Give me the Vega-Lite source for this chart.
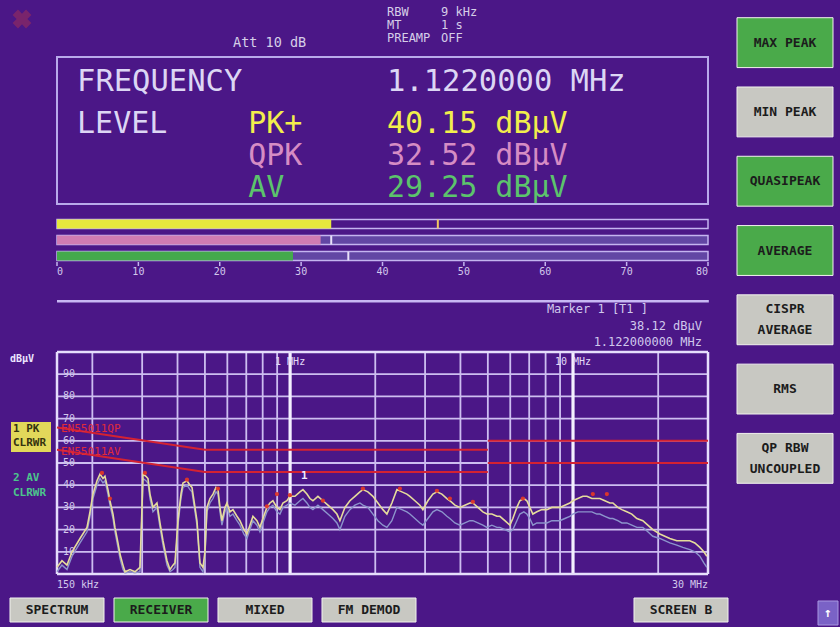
{
"$schema": "https://vega.github.io/schema/vega-lite/v6.json",
"width": 840, "height": 627,
"autosize": {"type": "none"},
"padding": 0,
"background": "#4b1787",
"config": {"view": {"stroke": null}, "legend": {"disable": true}, "text": {"font": "DejaVu Sans Mono"}},
"datasets": {
 "logo": [{"mark": "logo"}],
 "attenuation": [{"setting": "att", "label": "Att 10 dB"}],
 "header": [{"item": "RBW", "setting": "9 kHz"}, {"item": "MT", "setting": "1 s"}, {"item": "PREAMP", "setting": "OFF"}],
 "frequency": [{"quantity": "FREQUENCY", "reading": "1.1220000 MHz"}],
 "levels": [{"det": "PK+", "quantity": "LEVEL", "reading": "40.15 dBµV"}, {"det": "QPK", "quantity": "", "reading": "32.52 dBµV"}, {"det": "AV", "quantity": "", "reading": "29.25 dBµV"}],
 "meter": [{"det": "PK+", "bar": 33.7, "hold": 46.8}, {"det": "QPK", "bar": 32.4, "hold": 33.7}, {"det": "AV", "bar": 29.0, "hold": 35.8}],
 "meterScale": [{"v": 0}, {"v": 10}, {"v": 20}, {"v": 30}, {"v": 40}, {"v": 50}, {"v": 60}, {"v": 70}, {"v": 80}],
 "panels": [{"panel": "readout"}, {"panel": "separator"}, {"panel": "badge"}],
 "markerInfo": [{"line": "title", "text": "Marker 1 [T1 ]"}, {"line": "level", "text": "38.12 dBµV"}, {"line": "freq", "text": "1.122000000 MHz"}],
 "vgrid": [{"f": 0.2, "kind": "minor"}, {"f": 0.3, "kind": "minor"}, {"f": 0.4, "kind": "minor"}, {"f": 0.5, "kind": "minor"}, {"f": 0.6, "kind": "minor"}, {"f": 0.7, "kind": "minor"}, {"f": 0.8, "kind": "minor"}, {"f": 0.9, "kind": "minor"}, {"f": 1, "kind": "major"}, {"f": 2, "kind": "minor"}, {"f": 3, "kind": "minor"}, {"f": 4, "kind": "minor"}, {"f": 5, "kind": "minor"}, {"f": 6, "kind": "minor"}, {"f": 7, "kind": "minor"}, {"f": 8, "kind": "minor"}, {"f": 9, "kind": "minor"}, {"f": 10, "kind": "major"}, {"f": 20, "kind": "minor"}, {"f": 0.15, "kind": "frame"}, {"f": 30, "kind": "frame"}],
 "hgrid": [{"dB": 10, "label": "10"}, {"dB": 20, "label": "20"}, {"dB": 30, "label": "30"}, {"dB": 40, "label": "40"}, {"dB": 50, "label": "50"}, {"dB": 60, "label": "60"}, {"dB": 70, "label": "70"}, {"dB": 80, "label": "80"}, {"dB": 90, "label": "90"}],
 "hframe": [{"dB": 0}, {"dB": 100}],
 "freqLabels": [{"anchor": "start", "f": 0.15, "label": "150 kHz"}, {"anchor": "end", "f": 30, "label": "30 MHz"}, {"anchor": "decade", "f": 1, "label": "1 MHz"}, {"anchor": "decade", "f": 10, "label": "10 MHz"}],
 "limits": [{"seg": "QP-a", "f": 0.15, "dB": 66}, {"seg": "QP-a", "f": 0.5, "dB": 56}, {"seg": "QP-a", "f": 5, "dB": 56}, {"seg": "QP-b", "f": 5, "dB": 60}, {"seg": "QP-b", "f": 30, "dB": 60}, {"seg": "AV-a", "f": 0.15, "dB": 56}, {"seg": "AV-a", "f": 0.5, "dB": 46}, {"seg": "AV-a", "f": 5, "dB": 46}, {"seg": "AV-b", "f": 5, "dB": 50}, {"seg": "AV-b", "f": 30, "dB": 50}],
 "limitLabels": [{"label": "EN55011QP", "dB": 66}, {"label": "EN55011AV", "dB": 56}],
 "pk": [{"f":0.15,"dB":3},{"f":0.1562,"dB":6},{"f":0.1627,"dB":4},{"f":0.1695,"dB":10},{"f":0.1809,"dB":16},{"f":0.1915,"dB":21},{"f":0.1962,"dB":28},{"f":0.201,"dB":36},{"f":0.2077,"dB":42},{"f":0.2128,"dB":45},{"f":0.2181,"dB":43},{"f":0.2216,"dB":44},{"f":0.2271,"dB":38},{"f":0.2308,"dB":33},{"f":0.2366,"dB":27},{"f":0.2404,"dB":21},{"f":0.2464,"dB":14},{"f":0.2504,"dB":9},{"f":0.2566,"dB":4},{"f":0.2609,"dB":1},{"f":0.2717,"dB":2},{"f":0.283,"dB":1},{"f":0.2947,"dB":3},{"f":0.2996,"dB":30},{"f":0.302,"dB":45},{"f":0.3094,"dB":44},{"f":0.3145,"dB":43},{"f":0.3197,"dB":36},{"f":0.3276,"dB":30},{"f":0.3384,"dB":32},{"f":0.3468,"dB":23},{"f":0.3554,"dB":15},{"f":0.3671,"dB":6},{"f":0.3762,"dB":2},{"f":0.3855,"dB":4},{"f":0.3918,"dB":5},{"f":0.4015,"dB":24},{"f":0.4114,"dB":36},{"f":0.4182,"dB":41},{"f":0.432,"dB":42},{"f":0.4427,"dB":40},{"f":0.45,"dB":39},{"f":0.4611,"dB":30},{"f":0.4686,"dB":24},{"f":0.4802,"dB":5},{"f":0.4921,"dB":3},{"f":0.5002,"dB":10},{"f":0.5083,"dB":30},{"f":0.5209,"dB":34},{"f":0.5338,"dB":36},{"f":0.547,"dB":39},{"f":0.556,"dB":38},{"f":0.5651,"dB":30},{"f":0.5742,"dB":24},{"f":0.5884,"dB":30},{"f":0.5981,"dB":32},{"f":0.6129,"dB":28},{"f":0.628,"dB":29},{"f":0.6488,"dB":26},{"f":0.6648,"dB":24},{"f":0.6868,"dB":20},{"f":0.7038,"dB":18},{"f":0.7212,"dB":22},{"f":0.739,"dB":26},{"f":0.7634,"dB":24},{"f":0.7823,"dB":21},{"f":0.8016,"dB":25},{"f":0.8281,"dB":30},{"f":0.8486,"dB":32},{"f":0.8695,"dB":33},{"f":0.8983,"dB":30},{"f":0.9206,"dB":29},{"f":0.9433,"dB":32},{"f":0.9745,"dB":33},{"f":0.9986,"dB":35},{"f":1.0401,"dB":35},{"f":1.0834,"dB":37},{"f":1.1102,"dB":38},{"f":1.1469,"dB":36},{"f":1.1752,"dB":34},{"f":1.2042,"dB":33},{"f":1.2543,"dB":35},{"f":1.3064,"dB":33},{"f":1.3608,"dB":31},{"f":1.4174,"dB":29},{"f":1.4639,"dB":27},{"f":1.5,"dB":24},{"f":1.5624,"dB":30},{"f":1.627,"dB":33},{"f":1.6947,"dB":35},{"f":1.7652,"dB":37},{"f":1.8087,"dB":38},{"f":1.8838,"dB":37},{"f":1.9623,"dB":35},{"f":2.0439,"dB":32},{"f":2.1281,"dB":29},{"f":2.1987,"dB":27},{"f":2.2897,"dB":32},{"f":2.385,"dB":38},{"f":2.4841,"dB":37},{"f":2.587,"dB":36},{"f":2.651,"dB":35},{"f":2.7612,"dB":33},{"f":2.8761,"dB":31},{"f":2.9471,"dB":29},{"f":3.0696,"dB":33},{"f":3.1966,"dB":36},{"f":3.3027,"dB":37},{"f":3.4397,"dB":36},{"f":3.5826,"dB":34},{"f":3.6711,"dB":33},{"f":3.8235,"dB":31},{"f":3.9819,"dB":30},{"f":4.1473,"dB":31},{"f":4.3196,"dB":32},{"f":4.4268,"dB":32},{"f":4.6104,"dB":30},{"f":4.8019,"dB":28},{"f":4.9604,"dB":27},{"f":5.1664,"dB":27},{"f":5.3811,"dB":26},{"f":5.5144,"dB":26},{"f":5.7425,"dB":24},{"f":5.9811,"dB":22},{"f":6.1293,"dB":25},{"f":6.3315,"dB":30},{"f":6.4877,"dB":33},{"f":6.7032,"dB":34},{"f":6.8687,"dB":33},{"f":7.0382,"dB":30},{"f":7.2117,"dB":27},{"f":7.4499,"dB":28},{"f":7.7592,"dB":29},{"f":8.0813,"dB":29},{"f":8.4173,"dB":30},{"f":8.6964,"dB":30},{"f":8.9841,"dB":30},{"f":9.3572,"dB":31},{"f":9.7445,"dB":32},{"f":9.9857,"dB":33},{"f":10.401,"dB":34},{"f":10.834,"dB":35},{"f":11.195,"dB":35},{"f":11.658,"dB":34},{"f":12.139,"dB":34},{"f":12.44,"dB":34},{"f":12.957,"dB":33},{"f":13.496,"dB":32},{"f":13.83,"dB":32},{"f":14.401,"dB":30},{"f":14.88,"dB":29},{"f":15.495,"dB":28},{"f":16.14,"dB":27},{"f":16.811,"dB":25},{"f":17.651,"dB":24},{"f":18.384,"dB":22},{"f":19.146,"dB":20},{"f":20.271,"dB":18},{"f":21.111,"dB":17},{"f":21.989,"dB":16},{"f":23.276,"dB":15},{"f":24.44,"dB":15},{"f":25.875,"dB":15},{"f":26.952,"dB":14},{"f":28.076,"dB":12},{"f":29.001,"dB":10},{"f":29.718,"dB":8}],
 "av": [{"f":0.15,"dB":1},{"f":0.1562,"dB":4},{"f":0.1627,"dB":2},{"f":0.1695,"dB":8},{"f":0.1809,"dB":14},{"f":0.1915,"dB":19},{"f":0.1962,"dB":26},{"f":0.201,"dB":34},{"f":0.2077,"dB":40},{"f":0.2128,"dB":43},{"f":0.2181,"dB":41},{"f":0.2216,"dB":42},{"f":0.2271,"dB":36},{"f":0.2308,"dB":31},{"f":0.2366,"dB":25},{"f":0.2404,"dB":19},{"f":0.2464,"dB":12},{"f":0.2504,"dB":7},{"f":0.2566,"dB":2},{"f":0.2609,"dB":0.5},{"f":0.2717,"dB":1},{"f":0.283,"dB":0.5},{"f":0.2947,"dB":1},{"f":0.2996,"dB":28},{"f":0.302,"dB":43},{"f":0.3094,"dB":42},{"f":0.3145,"dB":41},{"f":0.3197,"dB":34},{"f":0.3276,"dB":28},{"f":0.3384,"dB":30},{"f":0.3468,"dB":21},{"f":0.3554,"dB":13},{"f":0.3671,"dB":4},{"f":0.3762,"dB":1},{"f":0.3855,"dB":2},{"f":0.3918,"dB":3},{"f":0.4015,"dB":22},{"f":0.4114,"dB":34},{"f":0.4182,"dB":39},{"f":0.432,"dB":40},{"f":0.4427,"dB":38},{"f":0.45,"dB":37},{"f":0.4611,"dB":28},{"f":0.4686,"dB":22},{"f":0.4802,"dB":3},{"f":0.4921,"dB":1},{"f":0.5002,"dB":8},{"f":0.5083,"dB":28},{"f":0.5209,"dB":32},{"f":0.5338,"dB":34},{"f":0.547,"dB":37},{"f":0.556,"dB":36},{"f":0.5651,"dB":28},{"f":0.5742,"dB":22},{"f":0.5884,"dB":28},{"f":0.5981,"dB":30},{"f":0.6129,"dB":26},{"f":0.628,"dB":27},{"f":0.6488,"dB":24},{"f":0.6648,"dB":22},{"f":0.6868,"dB":18},{"f":0.7038,"dB":16},{"f":0.7212,"dB":20},{"f":0.739,"dB":24},{"f":0.7634,"dB":22},{"f":0.7823,"dB":19},{"f":0.8016,"dB":23},{"f":0.8281,"dB":28},{"f":0.8486,"dB":30},{"f":0.8695,"dB":31},{"f":0.8983,"dB":28},{"f":0.9206,"dB":27},{"f":0.9433,"dB":30},{"f":0.9745,"dB":31},{"f":0.9986,"dB":32},{"f":1.0401,"dB":31},{"f":1.0834,"dB":33},{"f":1.1102,"dB":34},{"f":1.1469,"dB":32},{"f":1.1752,"dB":30},{"f":1.2042,"dB":29},{"f":1.2543,"dB":31},{"f":1.3064,"dB":29},{"f":1.3608,"dB":27},{"f":1.4174,"dB":25},{"f":1.4639,"dB":23},{"f":1.5,"dB":20},{"f":1.5624,"dB":26},{"f":1.627,"dB":29},{"f":1.6947,"dB":31},{"f":1.7652,"dB":32},{"f":1.8087,"dB":31},{"f":1.8838,"dB":30},{"f":1.9623,"dB":27},{"f":2.0439,"dB":24},{"f":2.1281,"dB":22},{"f":2.1987,"dB":21},{"f":2.2897,"dB":24},{"f":2.385,"dB":30},{"f":2.4841,"dB":29},{"f":2.587,"dB":28},{"f":2.651,"dB":27},{"f":2.7612,"dB":25},{"f":2.8761,"dB":23},{"f":2.9471,"dB":22},{"f":3.0696,"dB":25},{"f":3.1966,"dB":28},{"f":3.3027,"dB":29},{"f":3.4397,"dB":28},{"f":3.5826,"dB":26},{"f":3.6711,"dB":25},{"f":3.8235,"dB":23},{"f":3.9819,"dB":22},{"f":4.1473,"dB":23},{"f":4.3196,"dB":24},{"f":4.4268,"dB":24},{"f":4.6104,"dB":23},{"f":4.8019,"dB":22},{"f":4.9604,"dB":21},{"f":5.1664,"dB":22},{"f":5.3811,"dB":21},{"f":5.5144,"dB":21},{"f":5.7425,"dB":20},{"f":5.9811,"dB":19},{"f":6.1293,"dB":20},{"f":6.3315,"dB":24},{"f":6.4877,"dB":27},{"f":6.7032,"dB":28},{"f":6.8687,"dB":27},{"f":7.0382,"dB":25},{"f":7.2117,"dB":22},{"f":7.4499,"dB":23},{"f":7.7592,"dB":23},{"f":8.0813,"dB":23},{"f":8.4173,"dB":24},{"f":8.6964,"dB":24},{"f":8.9841,"dB":24},{"f":9.3572,"dB":25},{"f":9.7445,"dB":26},{"f":9.9857,"dB":27},{"f":10.401,"dB":28},{"f":10.834,"dB":28},{"f":11.195,"dB":28},{"f":11.658,"dB":28},{"f":12.139,"dB":27},{"f":12.44,"dB":27},{"f":12.957,"dB":26},{"f":13.496,"dB":25},{"f":13.83,"dB":25},{"f":14.401,"dB":24},{"f":14.88,"dB":23},{"f":15.495,"dB":23},{"f":16.14,"dB":22},{"f":16.811,"dB":21},{"f":17.651,"dB":21},{"f":18.384,"dB":19},{"f":19.146,"dB":17},{"f":20.271,"dB":16},{"f":21.111,"dB":15},{"f":21.989,"dB":14},{"f":23.276,"dB":13},{"f":24.44,"dB":12},{"f":25.875,"dB":11},{"f":26.952,"dB":10},{"f":28.076,"dB":8},{"f":29.001,"dB":5},{"f":29.718,"dB":3}],
 "qp": [{"f":0.2163,"dB":45.5},{"f":0.2308,"dB":34},{"f":0.3069,"dB":45.5},{"f":0.432,"dB":42.5},{"f":0.556,"dB":38.5},{"f":0.8281,"dB":30.5},{"f":0.8983,"dB":36},{"f":0.9986,"dB":35.5},{"f":1.3064,"dB":33},{"f":1.8087,"dB":38.5},{"f":2.444,"dB":38.5},{"f":3.3027,"dB":37.5},{"f":3.6711,"dB":34},{"f":4.4268,"dB":32.5},{"f":6.65,"dB":34},{"f":11.75,"dB":36},{"f":13.17,"dB":36}],
 "marker": [{"marker": "1", "f": 1.122, "dB": 38.12}],
 "gutter": [{"item": "unit", "label": "dBµV"}, {"item": "pk1", "label": "1 PK"}, {"item": "pk2", "label": "CLRWR"}, {"item": "av1", "label": "2 AV"}, {"item": "av2", "label": "CLRWR"}],
 "softkeys": [{"key": "MAX PEAK", "state": "on", "lines": 1, "label": "MAX PEAK"}, {"key": "MIN PEAK", "state": "off", "lines": 1, "label": "MIN PEAK"}, {"key": "QUASIPEAK", "state": "on", "lines": 1, "label": "QUASIPEAK"}, {"key": "AVERAGE", "state": "on", "lines": 1, "label": "AVERAGE"}, {"key": "CISPR AVERAGE", "state": "off", "lines": 2, "label": "CISPR\nAVERAGE"}, {"key": "RMS", "state": "off", "lines": 1, "label": "RMS"}, {"key": "QP RBW UNCOUPLED", "state": "off", "lines": 2, "label": "QP RBW\nUNCOUPLED"}],
 "hotkeys": [{"key": "SPECTRUM", "state": "off"}, {"key": "RECEIVER", "state": "on"}, {"key": "MIXED", "state": "off"}, {"key": "FM DEMOD", "state": "off"}, {"key": "SCREEN B", "state": "off"}],
 "upkey": [{"key": "up", "label": "↑"}]
},
"layer": [
 {"data": {"name": "logo"},
  "mark": {"type": "point", "shape": "cross", "angle": 45, "size": 360, "filled": true, "color": "#a03056", "opacity": 0.55},
  "encoding": {
   "x": {"field": "mark", "type": "nominal", "scale": {"type": "band", "domain": ["logo"], "range": [12, 32], "paddingInner": 0, "paddingOuter": 0}, "axis": null},
   "y": {"field": "mark", "type": "nominal", "scale": {"type": "band", "domain": ["logo"], "range": [9, 29], "paddingInner": 0, "paddingOuter": 0}, "axis": null}}},
 {"data": {"name": "attenuation"},
  "mark": {"type": "text", "align": "left", "baseline": "middle", "fontSize": 13.5, "color": "#d6cee8"},
  "encoding": {
   "x": {"datum": 21.63, "type": "quantitative", "scale": {"type": "linear", "domain": [0, 80], "range": [57, 708], "nice": false, "zero": false}, "axis": null},
   "y": {"field": "setting", "type": "nominal", "scale": {"type": "band", "domain": ["att"], "range": [36.5, 48.5], "paddingInner": 0, "paddingOuter": 0}, "axis": null},
   "text": {"field": "label"}}},
 {"data": {"name": "header"},
  "mark": {"type": "text", "align": "left", "baseline": "middle", "fontSize": 12, "color": "#d6cee8"},
  "encoding": {
   "x": {"datum": 40.55, "type": "quantitative", "scale": {"type": "linear", "domain": [0, 80], "range": [57, 708], "nice": false, "zero": false}, "axis": null},
   "y": {"field": "item", "type": "nominal", "scale": {"type": "band", "domain": ["RBW", "MT", "PREAMP"], "range": [5, 44], "paddingInner": 0, "paddingOuter": 0}, "axis": null},
   "text": {"field": "item"}}},
 {"data": {"name": "header"},
  "mark": {"type": "text", "align": "left", "baseline": "middle", "fontSize": 12, "color": "#d6cee8"},
  "encoding": {
   "x": {"datum": 47.19, "type": "quantitative", "scale": {"type": "linear", "domain": [0, 80], "range": [57, 708], "nice": false, "zero": false}, "axis": null},
   "y": {"field": "item", "type": "nominal", "scale": {"type": "band", "domain": ["RBW", "MT", "PREAMP"], "range": [5, 44], "paddingInner": 0, "paddingOuter": 0}, "axis": null},
   "text": {"field": "setting"}}},
 {"data": {"name": "panels"}, "transform": [{"filter": "datum.panel === 'readout'"}],
  "mark": {"type": "rect", "fillOpacity": 0, "stroke": "#b8aaea", "strokeWidth": 2},
  "encoding": {
   "x": {"datum": 0, "type": "quantitative", "scale": {"type": "linear", "domain": [0, 80], "range": [57, 708], "nice": false, "zero": false}, "axis": null},
   "x2": {"datum": 80},
   "y": {"field": "panel", "type": "nominal", "scale": {"type": "band", "domain": ["readout"], "range": [57, 204], "paddingInner": 0, "paddingOuter": 0}, "axis": null}}},
 {"data": {"name": "frequency"},
  "mark": {"type": "text", "align": "left", "baseline": "middle", "fontSize": 30.5, "color": "#dcd6f4"},
  "encoding": {
   "x": {"datum": 2.46, "type": "quantitative", "scale": {"type": "linear", "domain": [0, 80], "range": [57, 708], "nice": false, "zero": false}, "axis": null},
   "y": {"field": "quantity", "type": "nominal", "scale": {"type": "band", "domain": ["FREQUENCY"], "range": [70, 94], "paddingInner": 0, "paddingOuter": 0}, "axis": null},
   "text": {"field": "quantity"}}},
 {"data": {"name": "frequency"},
  "mark": {"type": "text", "align": "left", "baseline": "middle", "fontSize": 30.5, "color": "#dcd6f4"},
  "encoding": {
   "x": {"datum": 40.55, "type": "quantitative", "scale": {"type": "linear", "domain": [0, 80], "range": [57, 708], "nice": false, "zero": false}, "axis": null},
   "y": {"field": "quantity", "type": "nominal", "scale": {"type": "band", "domain": ["FREQUENCY"], "range": [70, 94], "paddingInner": 0, "paddingOuter": 0}, "axis": null},
   "text": {"field": "reading"}}},
 {"data": {"name": "levels"},
  "mark": {"type": "text", "align": "left", "baseline": "middle", "fontSize": 30, "color": "#dcd6f4"},
  "encoding": {
   "x": {"datum": 2.46, "type": "quantitative", "scale": {"type": "linear", "domain": [0, 80], "range": [57, 708], "nice": false, "zero": false}, "axis": null},
   "y": {"field": "det", "type": "nominal", "scale": {"type": "band", "domain": ["PK+", "QPK", "AV"], "range": [108, 204], "paddingInner": 0, "paddingOuter": 0}, "axis": null},
   "text": {"field": "quantity"}}},
 {"data": {"name": "levels"},
  "mark": {"type": "text", "align": "left", "baseline": "middle", "fontSize": 30},
  "encoding": {
   "x": {"datum": 23.5, "type": "quantitative", "scale": {"type": "linear", "domain": [0, 80], "range": [57, 708], "nice": false, "zero": false}, "axis": null},
   "y": {"field": "det", "type": "nominal", "scale": {"type": "band", "domain": ["PK+", "QPK", "AV"], "range": [108, 204], "paddingInner": 0, "paddingOuter": 0}, "axis": null},
   "text": {"field": "det"},
   "color": {"field": "det", "type": "nominal", "scale": {"domain": ["PK+", "QPK", "AV"], "range": ["#f2ee4c", "#d68cc4", "#5cc46c"]}, "legend": null}}},
 {"data": {"name": "levels"},
  "mark": {"type": "text", "align": "left", "baseline": "middle", "fontSize": 30},
  "encoding": {
   "x": {"datum": 40.55, "type": "quantitative", "scale": {"type": "linear", "domain": [0, 80], "range": [57, 708], "nice": false, "zero": false}, "axis": null},
   "y": {"field": "det", "type": "nominal", "scale": {"type": "band", "domain": ["PK+", "QPK", "AV"], "range": [108, 204], "paddingInner": 0, "paddingOuter": 0}, "axis": null},
   "text": {"field": "reading"},
   "color": {"field": "det", "type": "nominal", "scale": {"domain": ["PK+", "QPK", "AV"], "range": ["#f2ee4c", "#d68cc4", "#5cc46c"]}, "legend": null}}},
 {"data": {"name": "meter"},
  "mark": {"type": "rect", "stroke": "#c4b4f0", "strokeWidth": 1.5},
  "encoding": {
   "x": {"datum": 0, "type": "quantitative", "scale": {"type": "linear", "domain": [0, 80], "range": [57, 708], "nice": false, "zero": false}, "axis": null},
   "x2": {"datum": 80},
   "y": {"field": "det", "type": "nominal", "scale": {"type": "band", "domain": ["PK+", "QPK", "AV"], "range": [216, 264], "paddingInner": 0.45, "paddingOuter": 0.225}, "axis": null},
   "color": {"field": "det", "type": "nominal", "scale": {"domain": ["PK+", "QPK", "AV"], "range": ["#4b1787", "#6246a4", "#6246a4"]}, "legend": null}}},
 {"data": {"name": "meter"},
  "mark": {"type": "bar"},
  "encoding": {
   "x": {"field": "bar", "type": "quantitative", "scale": {"type": "linear", "domain": [0, 80], "range": [57, 708], "nice": false, "zero": false}, "axis": null},
   "y": {"field": "det", "type": "nominal", "scale": {"type": "band", "domain": ["PK+", "QPK", "AV"], "range": [216, 264], "paddingInner": 0.45, "paddingOuter": 0.225}, "axis": null},
   "color": {"field": "det", "type": "nominal", "scale": {"domain": ["PK+", "QPK", "AV"], "range": ["#e6e83e", "#d07cb2", "#44aa4c"]}, "legend": null}}},
 {"data": {"name": "meter"}, "transform": [{"filter": "datum.det === 'PK+'"}],
  "mark": {"type": "rule", "color": "#f0c860", "strokeWidth": 2},
  "encoding": {
   "x": {"field": "hold", "type": "quantitative", "scale": {"type": "linear", "domain": [0, 80], "range": [57, 708], "nice": false, "zero": false}, "axis": null},
   "y": {"datum": 0.225, "type": "quantitative", "scale": {"type": "linear", "domain": [0, 3], "range": [216, 264], "nice": false, "zero": false}, "axis": null}, "y2": {"datum": 0.775}}},
 {"data": {"name": "meter"}, "transform": [{"filter": "datum.det === 'QPK'"}],
  "mark": {"type": "rule", "color": "#e8e0f8", "strokeWidth": 2},
  "encoding": {
   "x": {"field": "hold", "type": "quantitative", "scale": {"type": "linear", "domain": [0, 80], "range": [57, 708], "nice": false, "zero": false}, "axis": null},
   "y": {"datum": 1.225, "type": "quantitative", "scale": {"type": "linear", "domain": [0, 3], "range": [216, 264], "nice": false, "zero": false}, "axis": null}, "y2": {"datum": 1.775}}},
 {"data": {"name": "meter"}, "transform": [{"filter": "datum.det === 'AV'"}],
  "mark": {"type": "rule", "color": "#e8e0f8", "strokeWidth": 2},
  "encoding": {
   "x": {"field": "hold", "type": "quantitative", "scale": {"type": "linear", "domain": [0, 80], "range": [57, 708], "nice": false, "zero": false}, "axis": null},
   "y": {"datum": 2.225, "type": "quantitative", "scale": {"type": "linear", "domain": [0, 3], "range": [216, 264], "nice": false, "zero": false}, "axis": null}, "y2": {"datum": 2.775}}},
 {"data": {"name": "meterScale"},
  "mark": {"type": "rule", "color": "#c4b4f0", "strokeWidth": 1.5},
  "encoding": {
   "x": {"field": "v", "type": "quantitative", "scale": {"type": "linear", "domain": [0, 80], "range": [57, 708], "nice": false, "zero": false}, "axis": null},
   "y": {"datum": 0, "type": "quantitative", "scale": {"type": "linear", "domain": [0, 1], "range": [262, 266], "nice": false, "zero": false}, "axis": null}, "y2": {"datum": 1}}},
 {"data": {"name": "meterScale"}, "transform": [{"filter": "datum.v === 0"}],
  "mark": {"type": "text", "align": "left", "baseline": "middle", "fontSize": 10, "color": "#d2c8ec"},
  "encoding": {
   "x": {"field": "v", "type": "quantitative", "scale": {"type": "linear", "domain": [0, 80], "range": [57, 708], "nice": false, "zero": false}, "axis": null},
   "y": {"datum": 2.5, "type": "quantitative", "scale": {"type": "linear", "domain": [0, 1], "range": [262, 266], "nice": false, "zero": false}, "axis": null},
   "text": {"field": "v", "type": "quantitative"}}},
 {"data": {"name": "meterScale"}, "transform": [{"filter": "datum.v > 0 && datum.v < 80"}],
  "mark": {"type": "text", "align": "center", "baseline": "middle", "fontSize": 10, "color": "#d2c8ec"},
  "encoding": {
   "x": {"field": "v", "type": "quantitative", "scale": {"type": "linear", "domain": [0, 80], "range": [57, 708], "nice": false, "zero": false}, "axis": null},
   "y": {"datum": 2.5, "type": "quantitative", "scale": {"type": "linear", "domain": [0, 1], "range": [262, 266], "nice": false, "zero": false}, "axis": null},
   "text": {"field": "v", "type": "quantitative"}}},
 {"data": {"name": "meterScale"}, "transform": [{"filter": "datum.v === 80"}],
  "mark": {"type": "text", "align": "right", "baseline": "middle", "fontSize": 10, "color": "#d2c8ec"},
  "encoding": {
   "x": {"field": "v", "type": "quantitative", "scale": {"type": "linear", "domain": [0, 80], "range": [57, 708], "nice": false, "zero": false}, "axis": null},
   "y": {"datum": 2.5, "type": "quantitative", "scale": {"type": "linear", "domain": [0, 1], "range": [262, 266], "nice": false, "zero": false}, "axis": null},
   "text": {"field": "v", "type": "quantitative"}}},
 {"data": {"name": "panels"}, "transform": [{"filter": "datum.panel === 'separator'"}],
  "mark": {"type": "rect", "color": "#c8b8f4"},
  "encoding": {
   "x": {"datum": 0, "type": "quantitative", "scale": {"type": "linear", "domain": [0, 80], "range": [57, 708], "nice": false, "zero": false}, "axis": null},
   "x2": {"datum": 80.1},
   "y": {"field": "panel", "type": "nominal", "scale": {"type": "band", "domain": ["separator"], "range": [300, 302.5], "paddingInner": 0, "paddingOuter": 0}, "axis": null}}},
 {"data": {"name": "markerInfo"}, "transform": [{"filter": "datum.line === 'title'"}],
  "mark": {"type": "text", "align": "left", "baseline": "middle", "fontSize": 12, "color": "#d0c8ec"},
  "encoding": {
   "x": {"datum": 60.2, "type": "quantitative", "scale": {"type": "linear", "domain": [0, 80], "range": [57, 708], "nice": false, "zero": false}, "axis": null},
   "y": {"field": "line", "type": "nominal", "scale": {"type": "band", "domain": ["title", "level", "freq"], "range": [300.75, 350.25], "paddingInner": 0, "paddingOuter": 0}, "axis": null},
   "text": {"field": "text"}}},
 {"data": {"name": "markerInfo"}, "transform": [{"filter": "datum.line !== 'title'"}],
  "mark": {"type": "text", "align": "right", "baseline": "middle", "fontSize": 12, "dx": -6, "color": "#d0c8ec"},
  "encoding": {
   "x": {"datum": 80, "type": "quantitative", "scale": {"type": "linear", "domain": [0, 80], "range": [57, 708], "nice": false, "zero": false}, "axis": null},
   "y": {"field": "line", "type": "nominal", "scale": {"type": "band", "domain": ["title", "level", "freq"], "range": [300.75, 350.25], "paddingInner": 0, "paddingOuter": 0}, "axis": null},
   "text": {"field": "text"}}},
 {"layer": [
   {"data": {"name": "hgrid"},
    "mark": {"type": "rule", "color": "#cdbef0", "strokeWidth": 1.8},
    "encoding": {"x": {"datum": 0.15, "type": "quantitative", "scale": {"type": "log", "domain": [0.15, 30], "range": [57, 708], "nice": false}, "axis": null}, "x2": {"datum": 30},
     "y": {"field": "dB", "type": "quantitative", "scale": {"type": "linear", "domain": [0, 100], "range": [574, 352], "nice": false, "zero": false}, "axis": null}}},
   {"data": {"name": "vgrid"}, "transform": [{"filter": "datum.kind === 'minor'"}],
    "mark": {"type": "rule", "color": "#cdbef0", "strokeWidth": 1.8},
    "encoding": {"x": {"field": "f", "type": "quantitative", "scale": {"type": "log", "domain": [0.15, 30], "range": [57, 708], "nice": false}, "axis": null},
     "y": {"datum": 0, "type": "quantitative", "scale": {"type": "linear", "domain": [0, 100], "range": [574, 352], "nice": false, "zero": false}, "axis": null}, "y2": {"datum": 100}}},
   {"data": {"name": "vgrid"}, "transform": [{"filter": "datum.kind === 'major'"}],
    "mark": {"type": "rule", "color": "#f4f0ff", "strokeWidth": 3.2},
    "encoding": {"x": {"field": "f", "type": "quantitative", "scale": {"type": "log", "domain": [0.15, 30], "range": [57, 708], "nice": false}, "axis": null},
     "y": {"datum": 0, "type": "quantitative", "scale": {"type": "linear", "domain": [0, 100], "range": [574, 352], "nice": false, "zero": false}, "axis": null}, "y2": {"datum": 100}}},
   {"data": {"name": "vgrid"}, "transform": [{"filter": "datum.kind === 'frame'"}],
    "mark": {"type": "rule", "color": "#e6defc", "strokeWidth": 2.5},
    "encoding": {"x": {"field": "f", "type": "quantitative", "scale": {"type": "log", "domain": [0.15, 30], "range": [57, 708], "nice": false}, "axis": null},
     "y": {"datum": 0, "type": "quantitative", "scale": {"type": "linear", "domain": [0, 100], "range": [574, 352], "nice": false, "zero": false}, "axis": null}, "y2": {"datum": 100}}},
   {"data": {"name": "hframe"},
    "mark": {"type": "rule", "color": "#e6defc", "strokeWidth": 2.5},
    "encoding": {"x": {"datum": 0.15, "type": "quantitative", "scale": {"type": "log", "domain": [0.15, 30], "range": [57, 708], "nice": false}, "axis": null}, "x2": {"datum": 30},
     "y": {"field": "dB", "type": "quantitative", "scale": {"type": "linear", "domain": [0, 100], "range": [574, 352], "nice": false, "zero": false}, "axis": null}}},
   {"data": {"name": "hgrid"},
    "mark": {"type": "text", "align": "left", "baseline": "middle", "dx": 6, "fontSize": 10, "color": "#d2c8ec"},
    "encoding": {"x": {"datum": 0.15, "type": "quantitative", "scale": {"type": "log", "domain": [0.15, 30], "range": [57, 708], "nice": false}, "axis": null},
     "y": {"field": "dB", "type": "quantitative", "scale": {"type": "linear", "domain": [0, 100], "range": [574, 352], "nice": false, "zero": false}, "axis": null},
     "text": {"field": "label"}}},
   {"data": {"name": "freqLabels"}, "transform": [{"filter": "datum.anchor === 'start'"}],
    "mark": {"type": "text", "align": "left", "baseline": "middle", "dy": 11, "fontSize": 10, "color": "#d2c8ec"},
    "encoding": {"x": {"field": "f", "type": "quantitative", "scale": {"type": "log", "domain": [0.15, 30], "range": [57, 708], "nice": false}, "axis": null},
     "y": {"datum": 0, "type": "quantitative", "scale": {"type": "linear", "domain": [0, 100], "range": [574, 352], "nice": false, "zero": false}, "axis": null}, "text": {"field": "label"}}},
   {"data": {"name": "freqLabels"}, "transform": [{"filter": "datum.anchor === 'end'"}],
    "mark": {"type": "text", "align": "right", "baseline": "middle", "dy": 11, "fontSize": 10, "color": "#d2c8ec"},
    "encoding": {"x": {"field": "f", "type": "quantitative", "scale": {"type": "log", "domain": [0.15, 30], "range": [57, 708], "nice": false}, "axis": null},
     "y": {"datum": 0, "type": "quantitative", "scale": {"type": "linear", "domain": [0, 100], "range": [574, 352], "nice": false, "zero": false}, "axis": null}, "text": {"field": "label"}}},
   {"data": {"name": "freqLabels"}, "transform": [{"filter": "datum.anchor === 'decade'"}],
    "mark": {"type": "text", "align": "center", "baseline": "middle", "dy": 10, "fontSize": 10, "color": "#e2daf8"},
    "encoding": {"x": {"field": "f", "type": "quantitative", "scale": {"type": "log", "domain": [0.15, 30], "range": [57, 708], "nice": false}, "axis": null},
     "y": {"datum": 100, "type": "quantitative", "scale": {"type": "linear", "domain": [0, 100], "range": [574, 352], "nice": false, "zero": false}, "axis": null}, "text": {"field": "label"}}},
   {"data": {"name": "limits"},
    "mark": {"type": "line", "color": "#d42232", "strokeWidth": 2},
    "encoding": {"x": {"field": "f", "type": "quantitative", "scale": {"type": "log", "domain": [0.15, 30], "range": [57, 708], "nice": false}, "axis": null},
     "y": {"field": "dB", "type": "quantitative", "scale": {"type": "linear", "domain": [0, 100], "range": [574, 352], "nice": false, "zero": false}, "axis": null},
     "detail": {"field": "seg"}}},
   {"data": {"name": "limitLabels"},
    "mark": {"type": "text", "align": "left", "baseline": "middle", "dx": 4, "dy": 2, "fontSize": 11, "color": "#e02a3a"},
    "encoding": {"x": {"datum": 0.15, "type": "quantitative", "scale": {"type": "log", "domain": [0.15, 30], "range": [57, 708], "nice": false}, "axis": null},
     "y": {"field": "dB", "type": "quantitative", "scale": {"type": "linear", "domain": [0, 100], "range": [574, 352], "nice": false, "zero": false}, "axis": null},
     "text": {"field": "label"}}},
   {"data": {"name": "av"},
    "mark": {"type": "line", "color": "#8c94cc", "strokeWidth": 1.4},
    "encoding": {"x": {"field": "f", "type": "quantitative", "scale": {"type": "log", "domain": [0.15, 30], "range": [57, 708], "nice": false}, "axis": null},
     "y": {"field": "dB", "type": "quantitative", "scale": {"type": "linear", "domain": [0, 100], "range": [574, 352], "nice": false, "zero": false}, "axis": null}}},
   {"data": {"name": "pk"},
    "mark": {"type": "line", "color": "#e6dc9c", "strokeWidth": 1.6},
    "encoding": {"x": {"field": "f", "type": "quantitative", "scale": {"type": "log", "domain": [0.15, 30], "range": [57, 708], "nice": false}, "axis": null},
     "y": {"field": "dB", "type": "quantitative", "scale": {"type": "linear", "domain": [0, 100], "range": [574, 352], "nice": false, "zero": false}, "axis": null}}},
   {"data": {"name": "qp"},
    "mark": {"type": "point", "filled": true, "size": 18, "color": "#e03828", "opacity": 0.95},
    "encoding": {"x": {"field": "f", "type": "quantitative", "scale": {"type": "log", "domain": [0.15, 30], "range": [57, 708], "nice": false}, "axis": null},
     "y": {"field": "dB", "type": "quantitative", "scale": {"type": "linear", "domain": [0, 100], "range": [574, 352], "nice": false, "zero": false}, "axis": null}}},
   {"data": {"name": "marker"},
    "mark": {"type": "text", "align": "center", "baseline": "middle", "dy": -13, "fontSize": 11, "fontWeight": "bold", "color": "#f0ecff"},
    "encoding": {"x": {"field": "f", "type": "quantitative", "scale": {"type": "log", "domain": [0.15, 30], "range": [57, 708], "nice": false}, "axis": null},
     "y": {"field": "dB", "type": "quantitative", "scale": {"type": "linear", "domain": [0, 100], "range": [574, 352], "nice": false, "zero": false}, "axis": null},
     "text": {"field": "marker"}}}
  ]},
 {"data": {"name": "panels"}, "transform": [{"filter": "datum.panel === 'badge'"}],
  "mark": {"type": "rect", "color": "#e2d85a"},
  "encoding": {"x": {"datum": 0, "type": "quantitative", "scale": {"type": "linear", "domain": [0, 1], "range": [11, 51], "nice": false, "zero": false}, "axis": null}, "x2": {"datum": 1},
   "y": {"field": "panel", "type": "nominal", "scale": {"type": "band", "domain": ["badge"], "range": [422, 452], "paddingInner": 0, "paddingOuter": 0}, "axis": null}}},
 {"data": {"name": "gutter"}, "transform": [{"filter": "datum.item === 'unit'"}],
  "mark": {"type": "text", "align": "left", "baseline": "middle", "dx": -1, "fontSize": 10, "fontWeight": "bold", "color": "#ece6ff"},
  "encoding": {"x": {"datum": 0, "type": "quantitative", "scale": {"type": "linear", "domain": [0, 1], "range": [11, 51], "nice": false, "zero": false}, "axis": null},
   "y": {"datum": 96.8, "type": "quantitative", "scale": {"type": "linear", "domain": [0, 100], "range": [574, 352], "nice": false, "zero": false}, "axis": null}, "text": {"field": "label"}}},
 {"data": {"name": "gutter"}, "transform": [{"filter": "datum.item === 'pk1'"}],
  "mark": {"type": "text", "align": "left", "baseline": "middle", "dx": 2, "fontSize": 11, "fontWeight": "bold", "color": "#363410"},
  "encoding": {"x": {"datum": 0, "type": "quantitative", "scale": {"type": "linear", "domain": [0, 1], "range": [11, 51], "nice": false, "zero": false}, "axis": null},
   "y": {"datum": 65.5, "type": "quantitative", "scale": {"type": "linear", "domain": [0, 100], "range": [574, 352], "nice": false, "zero": false}, "axis": null}, "text": {"field": "label"}}},
 {"data": {"name": "gutter"}, "transform": [{"filter": "datum.item === 'pk2'"}],
  "mark": {"type": "text", "align": "left", "baseline": "middle", "dx": 2, "fontSize": 11, "fontWeight": "bold", "color": "#363410"},
  "encoding": {"x": {"datum": 0, "type": "quantitative", "scale": {"type": "linear", "domain": [0, 1], "range": [11, 51], "nice": false, "zero": false}, "axis": null},
   "y": {"datum": 59, "type": "quantitative", "scale": {"type": "linear", "domain": [0, 100], "range": [574, 352], "nice": false, "zero": false}, "axis": null}, "text": {"field": "label"}}},
 {"data": {"name": "gutter"}, "transform": [{"filter": "datum.item === 'av1'"}],
  "mark": {"type": "text", "align": "left", "baseline": "middle", "dx": 2, "fontSize": 11, "fontWeight": "bold", "color": "#4cc48c"},
  "encoding": {"x": {"datum": 0, "type": "quantitative", "scale": {"type": "linear", "domain": [0, 1], "range": [11, 51], "nice": false, "zero": false}, "axis": null},
   "y": {"datum": 43.2, "type": "quantitative", "scale": {"type": "linear", "domain": [0, 100], "range": [574, 352], "nice": false, "zero": false}, "axis": null}, "text": {"field": "label"}}},
 {"data": {"name": "gutter"}, "transform": [{"filter": "datum.item === 'av2'"}],
  "mark": {"type": "text", "align": "left", "baseline": "middle", "dx": 2, "fontSize": 11, "fontWeight": "bold", "color": "#4cc48c"},
  "encoding": {"x": {"datum": 0, "type": "quantitative", "scale": {"type": "linear", "domain": [0, 1], "range": [11, 51], "nice": false, "zero": false}, "axis": null},
   "y": {"datum": 36.5, "type": "quantitative", "scale": {"type": "linear", "domain": [0, 100], "range": [574, 352], "nice": false, "zero": false}, "axis": null}, "text": {"field": "label"}}},
 {"data": {"name": "softkeys"},
  "mark": {"type": "rect", "stroke": "#f2f2ee", "strokeWidth": 1},
  "encoding": {
   "x": {"datum": 0, "type": "quantitative", "scale": {"type": "linear", "domain": [0, 1], "range": [737, 833], "nice": false, "zero": false}, "axis": null}, "x2": {"datum": 1},
   "y": {"field": "key", "type": "nominal", "scale": {"type": "band", "domain": ["MAX PEAK", "MIN PEAK", "QUASIPEAK", "AVERAGE", "CISPR AVERAGE", "RMS", "QP RBW UNCOUPLED"], "range": [8, 493], "paddingInner": 0.28, "paddingOuter": 0.14}, "axis": null},
   "color": {"field": "state", "type": "nominal", "scale": {"domain": ["on", "off"], "range": ["#4aaa4a", "#c8c8c2"]}, "legend": null}}},
 {"data": {"name": "softkeys"}, "transform": [{"filter": "datum.lines === 1"}],
  "mark": {"type": "text", "align": "center", "baseline": "middle", "fontSize": 13, "fontWeight": "bold", "color": "#1c1c1c"},
  "encoding": {
   "x": {"datum": 0.5, "type": "quantitative", "scale": {"type": "linear", "domain": [0, 1], "range": [737, 833], "nice": false, "zero": false}, "axis": null},
   "y": {"field": "key", "type": "nominal", "scale": {"type": "band", "domain": ["MAX PEAK", "MIN PEAK", "QUASIPEAK", "AVERAGE", "CISPR AVERAGE", "RMS", "QP RBW UNCOUPLED"], "range": [8, 493], "paddingInner": 0.28, "paddingOuter": 0.14}, "axis": null},
   "text": {"field": "label"}}},
 {"data": {"name": "softkeys"}, "transform": [{"filter": "datum.lines === 2"}],
  "mark": {"type": "text", "align": "center", "baseline": "middle", "dy": -10.5, "fontSize": 13, "fontWeight": "bold", "color": "#1c1c1c", "lineBreak": "\n", "lineHeight": 21},
  "encoding": {
   "x": {"datum": 0.5, "type": "quantitative", "scale": {"type": "linear", "domain": [0, 1], "range": [737, 833], "nice": false, "zero": false}, "axis": null},
   "y": {"field": "key", "type": "nominal", "scale": {"type": "band", "domain": ["MAX PEAK", "MIN PEAK", "QUASIPEAK", "AVERAGE", "CISPR AVERAGE", "RMS", "QP RBW UNCOUPLED"], "range": [8, 493], "paddingInner": 0.28, "paddingOuter": 0.14}, "axis": null},
   "text": {"field": "label"}}},
 {"data": {"name": "hotkeys"},
  "mark": {"type": "rect", "stroke": "#f2f2ee", "strokeWidth": 1},
  "encoding": {
   "x": {"field": "key", "type": "nominal", "scale": {"type": "band", "domain": ["SPECTRUM", "RECEIVER", "MIXED", "FM DEMOD", "key 5", "key 6", "SCREEN B"], "range": [5, 733], "paddingInner": 0.096, "paddingOuter": 0.048}, "axis": null},
   "y": {"datum": 0, "type": "quantitative", "scale": {"type": "linear", "domain": [0, 1], "range": [598, 622], "nice": false, "zero": false}, "axis": null}, "y2": {"datum": 1},
   "color": {"field": "state", "type": "nominal", "scale": {"domain": ["on", "off"], "range": ["#4aaa4a", "#c8c8c2"]}, "legend": null}}},
 {"data": {"name": "hotkeys"},
  "mark": {"type": "text", "align": "center", "baseline": "middle", "fontSize": 13, "fontWeight": "bold", "color": "#1c1c1c"},
  "encoding": {
   "x": {"field": "key", "type": "nominal", "scale": {"type": "band", "domain": ["SPECTRUM", "RECEIVER", "MIXED", "FM DEMOD", "key 5", "key 6", "SCREEN B"], "range": [5, 733], "paddingInner": 0.096, "paddingOuter": 0.048}, "axis": null},
   "y": {"datum": 0.5, "type": "quantitative", "scale": {"type": "linear", "domain": [0, 1], "range": [598, 622], "nice": false, "zero": false}, "axis": null},
   "text": {"field": "key"}}},
 {"data": {"name": "upkey"},
  "mark": {"type": "rect", "color": "#7a62c6", "stroke": "#a898e0", "strokeWidth": 1},
  "encoding": {
   "x": {"field": "key", "type": "nominal", "scale": {"type": "band", "domain": ["up"], "range": [818, 838], "paddingInner": 0, "paddingOuter": 0}, "axis": null},
   "y": {"field": "key", "type": "nominal", "scale": {"type": "band", "domain": ["up"], "range": [601, 625], "paddingInner": 0, "paddingOuter": 0}, "axis": null}}},
 {"data": {"name": "upkey"},
  "mark": {"type": "text", "align": "center", "baseline": "middle", "fontSize": 13, "fontWeight": "bold", "color": "#ffffff"},
  "encoding": {
   "x": {"field": "key", "type": "nominal", "scale": {"type": "band", "domain": ["up"], "range": [818, 838], "paddingInner": 0, "paddingOuter": 0}, "axis": null},
   "y": {"field": "key", "type": "nominal", "scale": {"type": "band", "domain": ["up"], "range": [601, 625], "paddingInner": 0, "paddingOuter": 0}, "axis": null},
   "text": {"field": "label"}}}
],
"resolve": {"scale": {"x": "independent", "y": "independent", "color": "independent"}}
}
